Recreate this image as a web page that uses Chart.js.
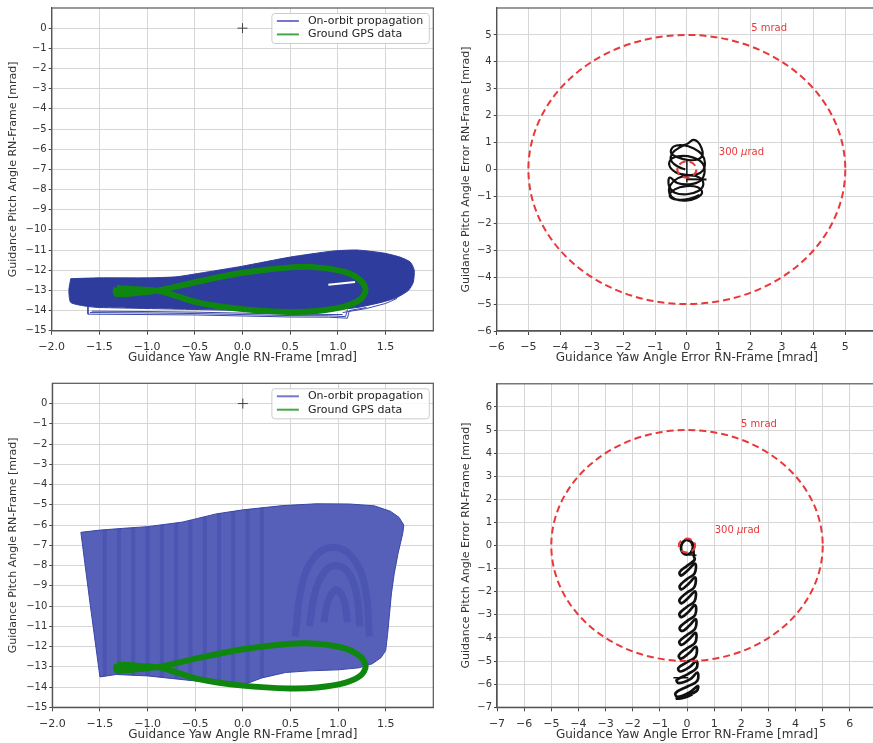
<!DOCTYPE html>
<html>
<head>
<meta charset="utf-8">
<script src="https://cdn.jsdelivr.net/npm/chart.js@4.4.1/dist/chart.umd.min.js"></script>
<style>
  body { margin: 0; background: #fff; width: 873px; height: 743px; overflow: hidden; position: relative; }
  canvas { position: absolute; }
</style>
</head>
<body>
<canvas id="yawPitchTop" width="440" height="372" style="left:0;top:0"></canvas>
<canvas id="errorTop" width="437" height="372" style="left:440px;top:0"></canvas>
<canvas id="yawPitchBottom" width="440" height="371" style="left:0;top:372px"></canvas>
<canvas id="errorBottom" width="437" height="371" style="left:440px;top:372px"></canvas>
<script>
// ---- tick labels ----
const yawTicks = [-2.0, -1.5, -1.0, -0.5, 0.0, 0.5, 1.0, 1.5];
const pitchTicks = [0, -1, -2, -3, -4, -5, -6, -7, -8, -9, -10, -11, -12, -13, -14, -15];
const errTicksTop = [-6, -5, -4, -3, -2, -1, 0, 1, 2, 3, 4, 5];
const errTicksBottom = [-7, -6, -5, -4, -3, -2, -1, 0, 1, 2, 3, 4, 5, 6];

const legendLabels = ['On-orbit propagation', 'Ground GPS data'];

// error limits (mrad) and their labels
const limitRadii = [5, 0.3];
const limitLabels = ['5 mrad', '300 μrad'];
const limitLabelXTop = [2.03, 1.01];
const limitLabelYTop = [5.25, 0.62];
const limitLabelXBottom = [1.99, 1.02];
const limitLabelYBottom = [5.26, 0.64];

// nominal pointing
const nominalPoint = [[0, 0]];

// ground GPS track (yaw, pitch)
const gpsTrack = [
  [-1.32, -12.88], [-1.1, -12.95], [-0.86, -13.05], [-0.45, -13.62], [0.0, -13.93], [0.5, -14.07],
  [0.78, -14.02], [1.08, -13.78], [1.24, -13.42], [1.29, -12.97], [1.24, -12.52], [1.08, -12.1],
  [0.78, -11.86], [0.5, -11.86], [0.0, -12.13], [-0.45, -12.55], [-0.86, -12.98], [-1.1, -13.12],
  [-1.32, -13.18], [-1.33, -13.02], [-1.32, -12.88]
];

// on-orbit propagation, case 1 (outline of the dense band)
const orbitBandTop = [
  [-1.80, -12.42], [-1.5, -12.38], [-1.0, -12.38], [-0.7, -12.33], [-0.45, -12.15], [0.0, -11.8],
  [0.5, -11.35], [0.95, -11.05], [1.2, -11.0], [1.48, -11.15], [1.65, -11.35], [1.76, -11.6],
  [1.80, -12.0], [1.79, -12.6], [1.74, -13.0], [1.62, -13.35], [1.45, -13.6], [1.2, -13.85],
  [0.9, -14.0], [0.5, -14.05], [0.0, -14.0], [-0.5, -13.95], [-1.0, -13.9], [-1.5, -13.85],
  [-1.62, -13.8], [-1.80, -13.6], [-1.82, -13.0], [-1.80, -12.42]
];
const orbitFringe1 = [[-1.62, -13.8], [-1.62, -14.18], [-1.0, -14.2], [-0.5, -14.22], [0.0, -14.27], [0.5, -14.32], [0.9, -14.33], [1.1, -14.38], [1.12, -14.0], [1.3, -13.85]];
const orbitFringe2 = [[-1.6, -14.1], [-1.0, -14.12], [-0.5, -14.15], [0.0, -14.2], [0.5, -14.25], [0.9, -14.26], [1.08, -14.3], [1.1, -13.95]];
const orbitFringe3 = [[-1.58, -14.03], [-1.0, -14.05], [-0.5, -14.08], [0.0, -14.13], [0.5, -14.18], [1.05, -14.2]];
const orbitFringe4 = [[1.05, -14.1], [1.3, -13.9], [1.5, -13.65], [1.62, -13.4]];
const orbitGap = [[0.9, -12.72], [1.18, -12.58]];

// on-orbit propagation, case 2 (outline of the swept band)
const orbitBandBottom = [
  [-1.70, -6.36], [-1.50, -6.25], [-1.25, -6.16], [-1.0, -6.08], [-0.63, -5.85], [-0.28, -5.45],
  [0.0, -5.25], [0.42, -5.04], [0.77, -4.95], [1.12, -4.96], [1.38, -5.05], [1.55, -5.32],
  [1.64, -5.62], [1.69, -6.0], [1.68, -6.4], [1.63, -7.4], [1.59, -8.4], [1.56, -9.4],
  [1.54, -10.4], [1.52, -11.4], [1.5, -12.2], [1.45, -12.55], [1.36, -12.85], [1.22, -13.05],
  [1.0, -13.15], [0.7, -13.2], [0.45, -13.28], [0.2, -13.55], [0.0, -13.9], [-0.5, -13.7],
  [-1.0, -13.45], [-1.33, -13.38], [-1.5, -13.5], [-1.6, -10.0], [-1.70, -6.36]
];
// darker sweep stripes inside the band: [yaw, pitch top, pitch bottom]
const orbitStripes = [
  [-1.45, -6.23, -13.48], [-1.3, -6.18, -13.38], [-1.15, -6.12, -13.43], [-1.0, -6.08, -13.45],
  [-0.85, -5.99, -13.52], [-0.7, -5.9, -13.6], [-0.55, -5.76, -13.68], [-0.4, -5.6, -13.75],
  [-0.25, -5.42, -13.8], [-0.1, -5.31, -13.86], [0.05, -5.22, -13.8], [0.2, -5.13, -13.55]
];
const orbitArch1 = [[0.55, -11.5], [0.62, -9.0], [0.75, -7.6], [0.95, -7.1], [1.15, -7.6], [1.28, -9.0], [1.33, -11.5]];
const orbitArch2 = [[0.7, -11.0], [0.76, -9.3], [0.86, -8.3], [0.97, -8.0], [1.1, -8.3], [1.19, -9.3], [1.23, -11.0]];
const orbitArch3 = [[0.85, -10.8], [0.9, -9.7], [0.98, -9.2], [1.06, -9.7], [1.1, -10.8]];

// pointing error tracks (yaw err, pitch err)
const errTrackTop = [
  [-0.05, 0.0], [-0.3, 0.12], [-0.5, 0.35], [-0.45, 0.62], [-0.22, 0.82], [0.05, 0.98], [0.2, 1.1],
  [0.35, 1.02], [0.46, 0.8], [0.5, 0.55], [0.35, 0.38], [0.05, 0.35], [-0.28, 0.45], [-0.5, 0.62],
  [-0.42, 0.85], [-0.12, 0.9], [0.22, 0.78], [0.48, 0.55], [0.57, 0.25], [0.52, -0.02], [0.3, -0.18],
  [-0.02, -0.2], [-0.35, -0.1], [-0.55, 0.15], [-0.48, 0.4], [-0.2, 0.5], [0.18, 0.45], [0.48, 0.25],
  [0.56, -0.1], [0.42, -0.42], [0.08, -0.55], [-0.3, -0.5], [-0.54, -0.3], [-0.56, -0.62],
  [-0.38, -0.86], [0.0, -0.92], [0.36, -0.8], [0.52, -0.55], [0.4, -0.3], [0.08, -0.22],
  [-0.28, -0.32], [-0.52, -0.58], [-0.55, -0.88], [-0.38, -1.1], [-0.04, -1.16], [0.3, -1.06],
  [0.48, -0.86], [0.34, -0.66], [-0.02, -0.62], [-0.38, -0.74], [-0.54, -0.98], [-0.3, -1.12],
  [0.1, -1.08], [0.4, -0.95]
];
const errStrokeTop1 = [[0.0, -0.36], [0.62, -0.37]];
const errStrokeTop2 = [[0.0, 0.32], [0.0, -0.48]];

const errTrackBottom = [
  [0.0, 0.25], [0.2, 0.12], [0.2, -0.18], [0.05, -0.38], [-0.15, -0.32], [-0.22, -0.05], [-0.1, 0.2],
  [0.1, 0.22], [0.22, -0.05], [0.25, -0.45],
  [0.28, -0.62], [0.0, -0.88], [-0.27, -1.15], [-0.22, -1.3], [0.05, -1.05], [0.3, -0.78],
  [0.28, -1.2], [0.0, -1.45], [-0.27, -1.75], [-0.2, -1.9], [0.06, -1.65], [0.3, -1.38],
  [0.27, -1.8], [-0.02, -2.05], [-0.28, -2.35], [-0.2, -2.5], [0.06, -2.25], [0.3, -1.98],
  [0.28, -2.4], [0.0, -2.65], [-0.28, -2.95], [-0.2, -3.1], [0.07, -2.85], [0.3, -2.58],
  [0.3, -3.0], [0.02, -3.25], [-0.27, -3.55], [-0.18, -3.7], [0.1, -3.45], [0.32, -3.18],
  [0.3, -3.6], [0.02, -3.85], [-0.28, -4.15], [-0.2, -4.3], [0.08, -4.05], [0.32, -3.78],
  [0.3, -4.2], [0.0, -4.45], [-0.3, -4.75], [-0.22, -4.9], [0.08, -4.65], [0.33, -4.38],
  [0.32, -4.8], [0.0, -5.05], [-0.32, -5.3], [-0.25, -5.45], [0.1, -5.25], [0.35, -5.0],
  [0.35, -5.3], [0.05, -5.55], [-0.38, -5.82], [-0.3, -5.95], [0.12, -5.78], [0.38, -5.5],
  [0.38, -5.85], [0.05, -6.08], [-0.42, -6.38], [-0.35, -6.55], [0.1, -6.35], [0.4, -6.08],
  [0.35, -6.3], [-0.05, -6.5], [-0.38, -6.62], [-0.15, -6.6], [0.2, -6.45]
];
const errStrokeBottom1 = [[-0.5, -5.72], [0.05, -5.72]];
const errStrokeBottom2 = [[0.05, -0.4], [0.35, -0.42]];

// ---- colours ----
const orbitBlue = '#2e3c9e';
const orbitBlueLight = '#5660b9';
const orbitShade = 'rgba(35,45,150,0.2)';
const gpsGreen = '#0f870f';
const limitRed = '#e8383a';
const FONT = 'DejaVu Sans';

function xy(arr) {
  return arr.map(p => ({ x: p[0], y: p[1] }));
}

function track(arr, color, width, extra) {
  return Object.assign({
    data: xy(arr), showLine: true, borderColor: color, borderWidth: width,
    pointRadius: 0, fill: false, tension: 0
  }, extra || {});
}

function fmtDec(v) { return (v < 0 ? '\u2212' : '') + Math.abs(v).toFixed(1); }
function fmtInt(v) { return (v < 0 ? '\u2212' : '') + Math.abs(v); }

function axis(o) {
  const isX = o.isX;
  return {
    type: 'linear', min: o.min, max: o.max,
    afterBuildTicks: s => { s.ticks = o.ticks.map(v => ({ value: v })); },
    afterFit: s => { if (isX) s.height = o.size; else s.width = o.size; },
    ticks: {
      autoSkip: false, maxRotation: 0, minRotation: 0, padding: isX ? 6 : 2,
      color: '#333', font: { family: FONT, size: isX ? 11 : 10 },
      callback: v => o.fmt(v)
    },
    grid: { color: '#d6d6d6', lineWidth: 1, tickLength: isX ? 4 : 3, tickColor: '#444' },
    border: { color: '#555', width: 1.2 },
    title: {
      display: true, text: o.title, color: '#333',
      font: { family: FONT, size: isX ? 12 : 11 }, padding: o.titlePad
    }
  };
}

// frame, legend, limit circles and notes
function extras(cfg) {
  return {
    id: 'extras',
    afterDatasetsDraw(chart) {
      const ctx = chart.ctx;
      const a = chart.chartArea;
      const sx = chart.scales.x, sy = chart.scales.y;
      ctx.save();
      if (cfg.limits) {
        const cx = sx.getPixelForValue(0), cy = sy.getPixelForValue(0);
        ctx.strokeStyle = limitRed;
        ctx.lineWidth = 2;
        ctx.setLineDash([7, 4]);
        limitRadii.forEach(r => {
          ctx.beginPath();
          ctx.ellipse(cx, cy, sx.getPixelForValue(r) - cx, cy - sy.getPixelForValue(r), 0, 0, Math.PI * 2);
          ctx.stroke();
        });
        ctx.setLineDash([]);
        ctx.fillStyle = limitRed;
        ctx.textBaseline = 'middle';
        limitLabels.forEach((t, i) => {
          let x = sx.getPixelForValue(cfg.noteX[i]);
          const y = sy.getPixelForValue(cfg.noteY[i]);
          const parts = t.split('μ');
          ctx.font = '10px "' + FONT + '"';
          ctx.fillText(parts[0], x, y);
          if (parts.length > 1) {
            x += ctx.measureText(parts[0]).width;
            ctx.font = 'italic 10px "' + FONT + '"';
            ctx.fillText('μ', x, y);
            x += ctx.measureText('μ').width;
            ctx.font = '10px "' + FONT + '"';
            ctx.fillText(parts[1], x, y);
          }
        });
      }
      ctx.strokeStyle = '#555';
      ctx.lineWidth = 1.2;
      ctx.strokeRect(a.left, a.top, a.right - a.left, a.bottom - a.top);
      if (cfg.legend) {
        ctx.font = '11px "' + FONT + '"';
        const tw = Math.max(...legendLabels.map(t => ctx.measureText(t).width));
        const bw = 5 + 22 + 9 + tw + 6, bh = 30;
        const bx = a.right - 4 - bw, by = a.top + 5.5;
        ctx.fillStyle = 'rgba(255,255,255,0.85)';
        ctx.strokeStyle = '#cccccc';
        ctx.lineWidth = 1;
        ctx.beginPath();
        ctx.roundRect(bx, by, bw, bh, 3);
        ctx.fill();
        ctx.stroke();
        const cols = ['rgba(60,60,180,0.7)', 'rgba(40,150,40,0.85)'];
        legendLabels.forEach((t, i) => {
          const ly = by + 7.5 + i * 13.4;
          ctx.strokeStyle = cols[i];
          ctx.lineWidth = 2;
          ctx.beginPath();
          ctx.moveTo(bx + 5, ly);
          ctx.lineTo(bx + 27, ly);
          ctx.stroke();
          ctx.fillStyle = '#222';
          ctx.textBaseline = 'middle';
          ctx.fillText(t, bx + 36, ly);
        });
      }
      ctx.restore();
    }
  };
}

function panel(id, cfg) {
  const cv = document.getElementById(id);
  const W = cv.width, H = cv.height;
  return new Chart(cv.getContext('2d'), {
    type: 'scatter',
    data: { datasets: cfg.datasets },
    options: {
      responsive: false, animation: false, devicePixelRatio: 1, events: [],
      layout: { padding: { left: 0, top: cfg.area.top, right: W - cfg.area.right, bottom: 0 } },
      plugins: { legend: { display: false }, tooltip: { enabled: false } },
      scales: {
        x: axis({ isX: true, min: cfg.xMin, max: cfg.xMax, ticks: cfg.xTicks, fmt: cfg.xFmt,
                  title: cfg.xTitle, titlePad: { top: 0, bottom: cfg.xTitlePad }, size: H - cfg.area.bottom }),
        y: axis({ isX: false, min: cfg.yMin, max: cfg.yMax, ticks: cfg.yTicks, fmt: fmtInt,
                  title: cfg.yTitle, titlePad: { top: cfg.yTitlePad, bottom: 0 }, size: cfg.area.left })
      }
    },
    plugins: [extras(cfg)]
  });
}

const crossSet = {
  data: xy(nominalPoint), pointStyle: 'cross', pointRadius: 5, borderColor: '#444',
  borderWidth: 1, showLine: false, order: 0
};

// top-left: case 1 trajectory
panel('yawPitchTop', {
  area: { left: 51.7, top: 6.7, right: 433.3, bottom: 330.7 },
  xMin: -2, xMax: 2, yMin: -15, yMax: 1, xTicks: yawTicks, yTicks: pitchTicks, xFmt: fmtDec,
  xTitle: 'Guidance Yaw Angle RN-Frame [mrad]', yTitle: 'Guidance Pitch Angle RN-Frame [mrad]',
  xTitlePad: 6.5, yTitlePad: 7, legend: true,
  datasets: [
    crossSet,
    track(gpsTrack, gpsGreen, 6, { order: 1, tension: 0.3 }),
    track(orbitGap, '#ffffff', 2, { order: 2 }),
    track(orbitBandTop, orbitBlue, 1, { order: 3, fill: 'shape', backgroundColor: orbitBlue, tension: 0.2 }),
    track(orbitFringe1, '#3a48aa', 1, { order: 4 }),
    track(orbitFringe2, '#3a48aa', 1, { order: 4 }),
    track(orbitFringe3, '#3a48aa', 1, { order: 4 }),
    track(orbitFringe4, '#3a48aa', 1, { order: 4 })
  ]
});

// top-right: case 1 pointing error
panel('errorTop', {
  area: { left: 56.7, top: 6.7, right: 437, bottom: 331 },
  xMin: -6, xMax: 6, yMin: -6, yMax: 6, xTicks: errTicksTop, yTicks: errTicksTop, xFmt: fmtInt,
  xTitle: 'Guidance Yaw Angle Error RN-Frame [mrad]', yTitle: 'Guidance Pitch Angle Error RN-Frame [mrad]',
  xTitlePad: 6.5, yTitlePad: 19.6, limits: true, noteX: limitLabelXTop, noteY: limitLabelYTop,
  datasets: [
    track(errTrackTop, '#111', 2.2, { tension: 0.4 }),
    track(errStrokeTop1, '#111', 2),
    track(errStrokeTop2, '#111', 1.5)
  ]
});

// bottom-left: case 2 trajectory
const stripeSets = orbitStripes.map(s =>
  track([[s[0], s[1]], [s[0], s[2]]], orbitShade, 4, { order: 2 }));
panel('yawPitchBottom', {
  area: { left: 52.3, top: 11.3, right: 433.3, bottom: 335.3 },
  xMin: -2, xMax: 2, yMin: -15, yMax: 1, xTicks: yawTicks, yTicks: pitchTicks, xFmt: fmtDec,
  xTitle: 'Guidance Yaw Angle RN-Frame [mrad]', yTitle: 'Guidance Pitch Angle RN-Frame [mrad]',
  xTitlePad: 1, yTitlePad: 7, legend: true,
  datasets: [
    crossSet,
    track(gpsTrack, gpsGreen, 6, { order: 1, tension: 0.3 }),
    ...stripeSets,
    track(orbitArch1, orbitShade, 7, { order: 2, tension: 0.4 }),
    track(orbitArch2, orbitShade, 7, { order: 2, tension: 0.4 }),
    track(orbitArch3, orbitShade, 7, { order: 2, tension: 0.4 }),
    track(orbitBandBottom, '#3a46a8', 1, { order: 3, fill: 'shape', backgroundColor: orbitBlueLight })
  ]
});

// bottom-right: case 2 pointing error
panel('errorBottom', {
  area: { left: 57, top: 11.8, right: 437, bottom: 335.3 },
  xMin: -7, xMax: 7, yMin: -7, yMax: 7, xTicks: errTicksBottom, yTicks: errTicksBottom, xFmt: fmtInt,
  xTitle: 'Guidance Yaw Angle Error RN-Frame [mrad]', yTitle: 'Guidance Pitch Angle Error RN-Frame [mrad]',
  xTitlePad: 1, yTitlePad: 19.6, limits: true, noteX: limitLabelXBottom, noteY: limitLabelYBottom,
  datasets: [
    track(errTrackBottom, '#111', 2.7, { tension: 0.4 }),
    track(errStrokeBottom1, '#111', 1.5),
    track(errStrokeBottom2, '#111', 1.5)
  ]
});
</script>
</body>
</html>
